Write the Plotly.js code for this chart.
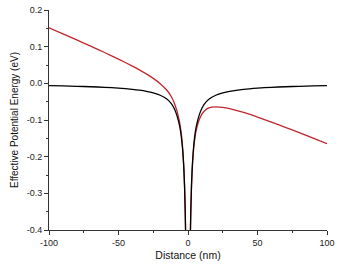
<!DOCTYPE html>
<html><head><meta charset="utf-8">
<script src="https://cdn.plot.ly/plotly-3.0.1.min.js"></script>
<style>html,body{margin:0;padding:0;background:#fff}#c{width:342px;height:267px}</style>
</head><body><div id="c"></div>
<script>
const xLeft = [-100,-90,-80,-70,-60,-50,-40,-35,-30,-25,-20,-15,-12,-10,-8,-6,-5,-4,-3,-2.5,-2,-1.7];
const blackLeft = [-0.0065,-0.0072,-0.0081,-0.0093,-0.0108,-0.013,-0.0163,-0.0186,-0.0217,-0.026,-0.0325,-0.0433,-0.0555,-0.068,-0.0875,-0.1167,-0.14,-0.175,-0.2333,-0.28,-0.35,-0.4118];
const redLeft = [0.1515,0.135,0.1183,0.1013,0.084,0.066,0.0469,0.0367,0.0257,0.0135,-0.0009,-0.0196,-0.0365,-0.0522,-0.0749,-0.1072,-0.1321,-0.1687,-0.2286,-0.276,-0.3468,-0.4091];
const xRight = [1.7,2,2.5,3,4,5,6,8,10,12,15,20,25,30,40,50,60,70,80,90,100];
const blackRight = [-0.4118,-0.35,-0.28,-0.2333,-0.175,-0.14,-0.1167,-0.0875,-0.068,-0.0555,-0.0433,-0.0325,-0.026,-0.0217,-0.0163,-0.013,-0.0108,-0.0093,-0.0081,-0.0072,-0.0065];
const redRight = [-0.4145,-0.3532,-0.284,-0.238,-0.1813,-0.1479,-0.1262,-0.1001,-0.0838,-0.0745,-0.067,-0.0641,-0.0655,-0.0691,-0.0795,-0.092,-0.1056,-0.1199,-0.1345,-0.1494,-0.1645];
const xTicks = [-100,-50,0,50,100];
const xTickText = ['-100','-50','0','50','100'];
const yTicks = [-0.4,-0.3,-0.2,-0.1,0.0,0.1,0.2];
const yTickText = ['-0.4','-0.3','-0.2','-0.1','0.0','0.1','0.2'];

const red = '#c0272d';
const line = (x,y,c)=>({x:x,y:y,mode:'lines',line:{color:c,width:1.3,shape:'spline',smoothing:0.6},hoverinfo:'skip',showlegend:false});
const data = [
  line(xLeft,redLeft,red), line(xRight,redRight,red),
  line(xLeft,blackLeft,'#000'), line(xRight,blackRight,'#000')
];
const tf = {family:'Liberation Sans, Arial, sans-serif',size:9,color:'#222'};
const layout = {
  width:342,height:267,
  margin:{l:49,r:15,t:10,b:37},
  paper_bgcolor:'#fff',plot_bgcolor:'#fff',
  xaxis:{range:[-100,100],tickmode:'array',tickvals:xTicks,ticktext:xTickText,
    showgrid:false,zeroline:false,showline:true,linecolor:'#333',linewidth:1,
    ticks:'outside',ticklen:4,tickcolor:'#333',tickfont:tf,
    minor:{dtick:25,tick0:0,ticks:'outside',ticklen:2,tickcolor:'#333',showgrid:false},
    title:{text:'Distance (nm)',font:{family:'Liberation Sans, Arial, sans-serif',size:10.5,color:'#111'},standoff:4}},
  yaxis:{range:[-0.4,0.2],tickmode:'array',tickvals:yTicks,ticktext:yTickText,
    showgrid:false,zeroline:false,showline:true,linecolor:'#333',linewidth:1,
    ticks:'outside',ticklen:4,tickcolor:'#333',tickfont:tf,
    minor:{dtick:0.05,tick0:0,ticks:'outside',ticklen:2,tickcolor:'#333',showgrid:false},
    title:{text:'Effective Potential Energy (eV)',font:{family:'Liberation Sans, Arial, sans-serif',size:10,color:'#111'},standoff:6}}
};
Plotly.newPlot('c',data,layout,{staticPlot:true,displayModeBar:false});
</script></body></html>
